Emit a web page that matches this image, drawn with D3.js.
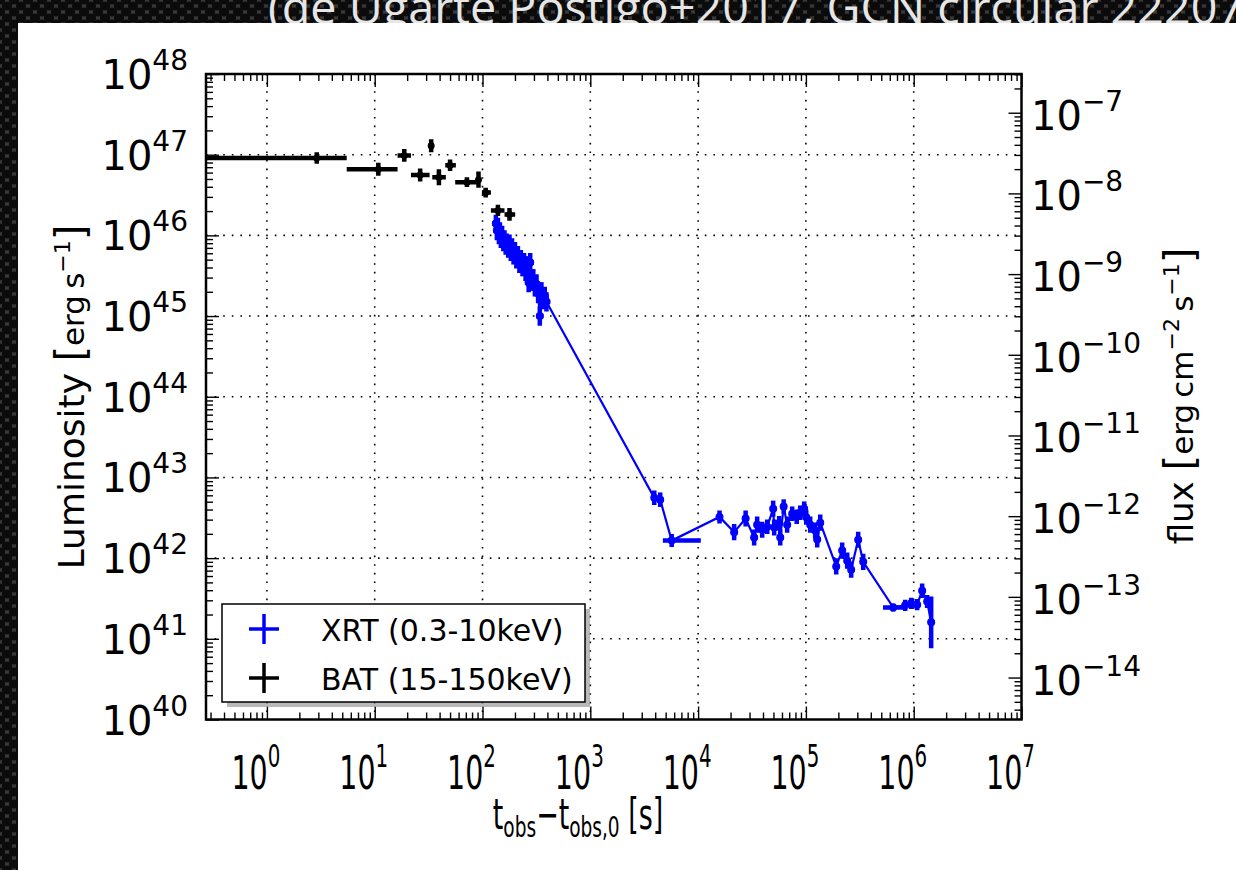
<!DOCTYPE html>
<html>
<head>
<meta charset="utf-8">
<script src="https://cdn.jsdelivr.net/npm/d3@7"></script>
<style>
body { margin: 0; background: #1b1b1b; }
svg { display: block; }
text { font-family: "DejaVu Sans", sans-serif; }
</style>
</head>
<body>
<svg id="chart" width="1236" height="870"></svg>
<script>
// ---- data ----
const titleText = "(de Ugarte Postigo+2017, GCN circular 22207)";

const xTickExp = [0, 1, 2, 3, 4, 5, 6, 7];
const lumTickExp = [40, 41, 42, 43, 44, 45, 46, 47, 48];
const fluxTickExp = [-14, -13, -12, -11, -10, -9, -8, -7];
const lumPerFluxExp = 54.52; // log10(L / flux)

// BAT 15-150 keV
const batTime   = [2.9, 10.8, 18.8, 26.4, 33.4, 39.4, 50, 71.7, 91.8, 107, 139, 178];
const batTimeLo = [0.01, 5.5, 16.3, 21.7, 31.5, 34.2, 45.1, 55.8, 90, 98.7, 119.7, 160];
const batTimeHi = [5.5, 16.3, 21.7, 32.3, 35.5, 45.7, 56.6, 91.2, 95, 119.7, 160, 201];
const batLum    = [9.1e46, 6.6e46, 9.8e46, 5.6e46, 1.29e47, 5.25e46, 7.4e46, 4.57e46, 4.9e46, 3.39e46, 2.04e46, 1.82e46];
const batLumErr = [0.07, 0.08, 0.08, 0.08, 0.08, 0.1, 0.07, 0.06, 0.1, 0.06, 0.07, 0.08]; // dex

// XRT 0.3-10 keV
const xrtTime = [133, 136, 139, 142, 145, 148, 152, 156, 160, 164, 168, 173, 178, 183, 188, 194, 200, 206, 213, 220,
  227, 235, 243, 251, 259, 268, 277, 286, 296, 306, 317, 328, 340, 352, 365, 378, 392,
  3920, 4450, 5690, 15800, 21600, 27600, 33100, 35300, 39300, 43800,
  49700, 50800, 56500, 57800, 62200, 67000, 74600, 82200, 88500, 96400,
  100700, 109600, 122000, 127300, 135800, 191000, 217000, 241600, 263000, 305500,
  340000, 645000, 834000, 948000, 1077000, 1198000, 1333000, 1452000];
const xrtLum = [1.4e46, 1.15e46, 1.25e46, 1.0e46, 1.1e46, 9.0e45, 1.0e46, 8.2e45, 8.8e45, 7.4e45, 8.0e45, 6.8e45, 7.8e45, 6.2e45, 7.0e45,
  5.6e45, 6.3e45, 5.0e45, 5.6e45, 4.4e45, 5.0e45, 4.0e45, 4.6e45, 3.5e45, 4.2e45, 2.6e45, 4.6e45, 2.7e45, 2.9e45, 2.3e45,
  2.5e45, 1.9e45, 1.0e45, 2.0e45, 1.6e45, 1.75e45, 1.5e45,
  5.6e42, 5.3e42, 1.65e42, 3.24e42, 2.1e42, 3.1e42, 1.8e42, 2.6e42, 2.25e42, 2.45e42,
  4.1e42, 2.4e42, 2.7e42, 1.8e42, 4.35e42, 2.6e42, 3.55e42, 3.25e42, 3.65e42, 4.1e42,
  3.2e42, 2.6e42, 2.2e42, 1.7e42, 2.75e42, 7.9e41, 1.24e42, 9.3e41, 7.2e41, 1.69e42,
  9.0e41, 2.45e41, 2.6e41, 2.75e41, 2.65e41, 3.95e41, 2.9e41, 1.6e41];
const xrtLumErr = [0.11, 0.12, 0.12, 0.11, 0.12, 0.11, 0.12, 0.11, 0.12, 0.11, 0.12, 0.11, 0.12, 0.11, 0.12, 0.11, 0.12, 0.11, 0.12, 0.11,
  0.12, 0.11, 0.12, 0.11, 0.12, 0.12, 0.12, 0.12, 0.12, 0.12, 0.12, 0.12, 0.12, 0.12, 0.12, 0.12, 0.12,
  0.09, 0.09, 0.08, 0.08, 0.1, 0.1, 0.1, 0.1, 0.1, 0.09,
  0.1, 0.1, 0.09, 0.1, 0.09, 0.1, 0.09, 0.09, 0.09, 0.09,
  0.09, 0.1, 0.1, 0.1, 0.1, 0.1, 0.1, 0.1, 0.1, 0.1,
  0.1, 0.05, 0.07, 0.07, 0.07, 0.09, 0.08, 0.32];
const xrtTimeErrLo = [0.035, 0.035, 0.035, 0.035, 0.035, 0.035, 0.035, 0.035, 0.035, 0.035, 0.035, 0.035, 0.035, 0.035, 0.035,
  0.035, 0.035, 0.035, 0.035, 0.035, 0.035, 0.035, 0.035, 0.035, 0.035, 0.035, 0.035, 0.035, 0.035, 0.035,
  0.035, 0.035, 0.035, 0.035, 0.035, 0.035, 0.035,
  0.03, 0.03, 0.082, 0.03, 0.03, 0.03, 0.03, 0.03, 0.03, 0.03,
  0.03, 0.03, 0.03, 0.03, 0.03, 0.03, 0.03, 0.03, 0.03, 0.03,
  0.03, 0.03, 0.03, 0.03, 0.03, 0.03, 0.03, 0.03, 0.03, 0.03,
  0.03, 0.094, 0.03, 0.03, 0.03, 0.03, 0.03, 0.03];
const xrtTimeErrHi = [0.035, 0.035, 0.035, 0.035, 0.035, 0.035, 0.035, 0.035, 0.035, 0.035, 0.035, 0.035, 0.035, 0.035, 0.035,
  0.035, 0.035, 0.035, 0.035, 0.035, 0.035, 0.035, 0.035, 0.035, 0.035, 0.035, 0.035, 0.035, 0.035, 0.035,
  0.035, 0.035, 0.035, 0.035, 0.035, 0.035, 0.035,
  0.03, 0.03, 0.27, 0.03, 0.03, 0.03, 0.03, 0.03, 0.03, 0.03,
  0.03, 0.03, 0.03, 0.03, 0.03, 0.03, 0.03, 0.03, 0.03, 0.03,
  0.03, 0.03, 0.03, 0.03, 0.03, 0.03, 0.03, 0.03, 0.03, 0.03,
  0.03, 0.093, 0.03, 0.03, 0.03, 0.03, 0.03, 0.03];

const legendLabels = ["XRT (0.3-10keV)", "BAT (15-150keV)"];
const legendColors = ["#0000ff", "#000000"];

// ---- layout ----
const W = 1236, H = 870;
const plot = { left: 206, right: 1021.5, top: 74, bottom: 719.5 };

const svg = d3.select("#chart");

// slide background texture
const defs = svg.append("defs");
const mesh = defs.append("pattern")
  .attr("id", "mesh").attr("width", 14).attr("height", 12)
  .attr("patternUnits", "userSpaceOnUse");
mesh.append("rect").attr("width", 14).attr("height", 12).attr("fill", "#3a3a3a");
[[7, 6], [0, 0], [14, 0], [0, 12], [14, 12]].forEach(c => {
  mesh.append("ellipse").attr("cx", c[0]).attr("cy", c[1]).attr("rx", 5.2).attr("ry", 4.6).attr("fill", "#0b0b0b");
});
svg.append("rect").attr("width", W).attr("height", H).attr("fill", "url(#mesh)");

svg.append("text")
  .attr("x", 268).attr("y", 24)
  .attr("fill", "#e6e6e6")
  .attr("textLength", 990).attr("lengthAdjust", "spacingAndGlyphs")
  .style("font-family", "'Open Sans', sans-serif")
  .style("font-size", "46px")
  .text(titleText);

// white panel
svg.append("rect").attr("x", 18).attr("y", 23).attr("width", W - 18).attr("height", H - 23).attr("fill", "#fff");

// scales
const x = d3.scaleLog().domain([Math.pow(10, -0.565), 1e7]).range([plot.left, plot.right]);
const yL = d3.scaleLog().domain([1e40, 1e48]).range([plot.bottom, plot.top]);
const yF = d3.scaleLog()
  .domain([Math.pow(10, 40 - lumPerFluxExp), Math.pow(10, 48 - lumPerFluxExp)])
  .range([plot.bottom, plot.top]);

function minorTicks(scale) {
  const [a, b] = scale.domain();
  const out = [];
  for (let e = Math.floor(Math.log10(a)); e <= Math.ceil(Math.log10(b)); e++) {
    for (let m = 2; m <= 9; m++) {
      const v = m * Math.pow(10, e);
      if (v > a && v < b) out.push(v);
    }
  }
  return out;
}

// grid
const grid = svg.append("g").attr("stroke", "#000").attr("stroke-width", 1.6).attr("stroke-dasharray", "1.6,7");
grid.selectAll(".gx").data(xTickExp.slice(0, -1).map(e => Math.pow(10, e))).join("line")
  .attr("x1", d => x(d)).attr("x2", d => x(d)).attr("y1", plot.top).attr("y2", plot.bottom);
grid.selectAll(".gy").data(lumTickExp.slice(1, -1).map(e => Math.pow(10, e))).join("line")
  .attr("x1", plot.left).attr("x2", plot.right).attr("y1", d => yL(d)).attr("y2", d => yL(d));

// data
svg.append("clipPath").attr("id", "clip").append("rect")
  .attr("x", plot.left).attr("y", plot.top)
  .attr("width", plot.right - plot.left).attr("height", plot.bottom - plot.top);
const dataG = svg.append("g").attr("clip-path", "url(#clip)");

const xrtPts = xrtTime.map((t, i) => ({
  t, L: xrtLum[i],
  t0: t / Math.pow(10, xrtTimeErrLo[i]), t1: t * Math.pow(10, xrtTimeErrHi[i]),
  L0: xrtLum[i] / Math.pow(10, xrtLumErr[i]), L1: xrtLum[i] * Math.pow(10, xrtLumErr[i])
}));
const batPts = batTime.map((t, i) => ({
  t, L: batLum[i], t0: batTimeLo[i], t1: batTimeHi[i],
  L0: batLum[i] / Math.pow(10, batLumErr[i]), L1: batLum[i] * Math.pow(10, batLumErr[i])
}));

dataG.append("path")
  .datum(xrtPts)
  .attr("fill", "none").attr("stroke", "#0000ff").attr("stroke-width", 2.2)
  .attr("d", d3.line().x(d => x(d.t)).y(d => yL(d.L)));

function drawErrorbars(pts, color, lw, r) {
  const g = dataG.append("g").attr("stroke", color).attr("stroke-width", lw);
  g.selectAll(".h").data(pts).join("line")
    .attr("x1", d => x(d.t0)).attr("x2", d => x(d.t1))
    .attr("y1", d => yL(d.L)).attr("y2", d => yL(d.L));
  g.selectAll(".v").data(pts).join("line")
    .attr("x1", d => x(d.t)).attr("x2", d => x(d.t))
    .attr("y1", d => yL(d.L0)).attr("y2", d => yL(d.L1));
  dataG.append("g").attr("fill", color).selectAll("circle").data(pts).join("circle")
    .attr("cx", d => x(d.t)).attr("cy", d => yL(d.L)).attr("r", r);
}
drawErrorbars(xrtPts, "#0000ff", 4.5, 4);
drawErrorbars(batPts, "#000000", 4.5, 3.5);

// ticks (pointing inward on all four sides)
function tickAxis(axisFn, scale, values, size, transform) {
  const g = svg.append("g").attr("transform", transform)
    .call(axisFn(scale).tickValues(values).tickSize(-size).tickFormat(""));
  g.select(".domain").remove();
  g.selectAll(".tick line").attr("stroke", "#000").attr("stroke-width", 1.4);
}
const xMaj = xTickExp.map(e => Math.pow(10, e));
const lMaj = lumTickExp.map(e => Math.pow(10, e));
const fMaj = fluxTickExp.map(e => Math.pow(10, e));
tickAxis(d3.axisBottom, x, xMaj, 13, `translate(0,${plot.bottom})`);
tickAxis(d3.axisBottom, x, minorTicks(x), 7, `translate(0,${plot.bottom})`);
tickAxis(d3.axisTop, x, xMaj, 13, `translate(0,${plot.top})`);
tickAxis(d3.axisTop, x, minorTicks(x), 7, `translate(0,${plot.top})`);
tickAxis(d3.axisLeft, yL, lMaj, 13, `translate(${plot.left},0)`);
tickAxis(d3.axisLeft, yL, minorTicks(yL), 7, `translate(${plot.left},0)`);
tickAxis(d3.axisRight, yF, fMaj, 13, `translate(${plot.right},0)`);
tickAxis(d3.axisRight, yF, minorTicks(yF), 7, `translate(${plot.right},0)`);

// frame
svg.append("rect")
  .attr("x", plot.left).attr("y", plot.top)
  .attr("width", plot.right - plot.left).attr("height", plot.bottom - plot.top)
  .attr("fill", "none").attr("stroke", "#000").attr("stroke-width", 2.5);

// tick labels
function powerLabel(g, exp, size, supSize, supDy) {
  const t = g.append("text").attr("fill", "#000").style("font-size", size + "px");
  t.append("tspan").text("10");
  t.append("tspan").attr("dy", supDy).style("font-size", supSize + "px")
    .text(String(exp).replace("-", "\u2212"));
  return t;
}
lumTickExp.forEach(e => {
  const g = svg.append("g").attr("transform", `translate(188,${yL(Math.pow(10, e)) + 15})`);
  powerLabel(g, e, 40, 28, -19).attr("text-anchor", "end");
});
fluxTickExp.forEach(e => {
  const g = svg.append("g").attr("transform", `translate(1031,${yF(Math.pow(10, e)) + 17})`);
  powerLabel(g, e, 40, 28, -19).attr("text-anchor", "start");
});
xTickExp.forEach(e => {
  const g = svg.append("g").attr("transform", `translate(${x(Math.pow(10, e)) - 11},789) scale(0.62,1)`);
  powerLabel(g, e, 46, 32, -22).attr("text-anchor", "middle");
});

// axis titles
const xt = svg.append("text")
  .attr("transform", "translate(578,829) scale(0.64,1)")
  .attr("text-anchor", "middle").style("font-size", "42px").attr("fill", "#000");
xt.append("tspan").text("t");
xt.append("tspan").attr("dy", 8).style("font-size", "29px").text("obs");
xt.append("tspan").attr("dy", -8).text("\u2212t");
xt.append("tspan").attr("dy", 8).style("font-size", "29px").text("obs,0");
xt.append("tspan").attr("dy", -8).text(" [s]");

const yt = svg.append("text")
  .attr("transform", "translate(84,397) rotate(-90)")
  .attr("text-anchor", "middle").style("font-size", "36px").attr("fill", "#000");
yt.append("tspan").text("Luminosity ");
yt.append("tspan").style("font-size", "40px").text("[");
yt.append("tspan").style("font-size", "31px").text("erg\u2009s");
yt.append("tspan").attr("dy", -14).style("font-size", "22px").text("\u22121");
yt.append("tspan").attr("dy", 14).style("font-size", "40px").text("]");

const ft = svg.append("text")
  .attr("transform", "translate(1193,396) rotate(-90)")
  .attr("text-anchor", "middle").style("font-size", "34px").attr("fill", "#000");
ft.append("tspan").text("flux ");
ft.append("tspan").style("font-size", "40px").text("[");
ft.append("tspan").style("font-size", "31px").text("erg\u2009cm");
ft.append("tspan").attr("dy", -14).style("font-size", "22px").text("\u22122");
ft.append("tspan").attr("dy", 14).style("font-size", "31px").text("\u2009s");
ft.append("tspan").attr("dy", -14).style("font-size", "22px").text("\u22121");
ft.append("tspan").attr("dy", 14).style("font-size", "40px").text("]");

// legend
const leg = svg.append("g");
leg.append("rect").attr("x", 227).attr("y", 609).attr("width", 363).attr("height", 98).attr("fill", "#8a8a8a").attr("opacity", 0.6);
leg.append("rect").attr("x", 222).attr("y", 604).attr("width", 363).attr("height", 98)
  .attr("fill", "#fff").attr("stroke", "#000").attr("stroke-width", 1.5);
legendLabels.forEach((lab, i) => {
  const cy = 629 + i * 49;
  const m = leg.append("g").attr("stroke", legendColors[i]).attr("stroke-width", 3.5);
  m.append("line").attr("x1", 249).attr("x2", 279).attr("y1", cy).attr("y2", cy);
  m.append("line").attr("x1", 264).attr("x2", 264).attr("y1", cy - 15).attr("y2", cy + 15);
  leg.append("text").attr("x", 321).attr("y", cy + 12)
    .style("font-size", "30px").attr("fill", "#000").text(lab);
});
</script>
</body>
</html>
